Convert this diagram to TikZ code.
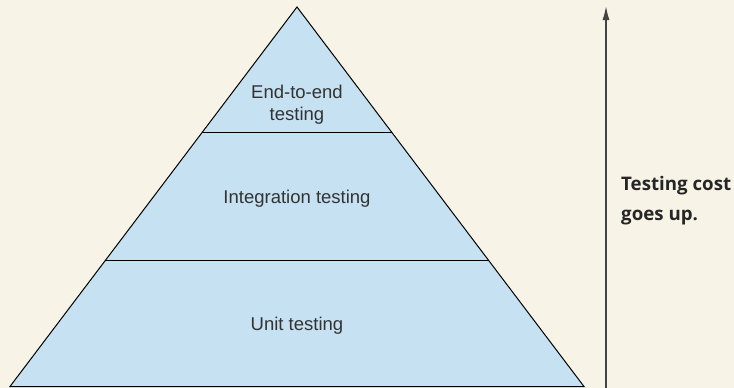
\documentclass[tikz,border=0pt]{standalone}
\usepackage{fontspec}
\setmainfont{Liberation Sans}
\newfontfamily\notefont{Open Sans}
\usetikzlibrary{arrows.meta,calc}
\definecolor{bgcream}{HTML}{F7F4E7}
\definecolor{pyrblue}{HTML}{C5E1F2}
\definecolor{labelgrey}{HTML}{333333}
\definecolor{arrowgrey}{HTML}{444444}
\tikzset{
  layerlabel/.style={font=\fontsize{18.5pt}{22pt}\selectfont, text=labelgrey, inner sep=0pt, anchor=base},
  notelabel/.style={font=\notefont\bfseries\fontsize{18.7pt}{22pt}\selectfont, text=black!85, inner sep=0pt, anchor=base west},
  pyrline/.style={draw=black, line width=1pt},
  costarrow/.style={draw=arrowgrey, line width=1.4pt, -{Latex[length=14pt,width=7pt]}}
}
\begin{document}
\begin{tikzpicture}[x=1pt,y=-1pt]
  \fill[bgcream] (0,0) rectangle (734,388);
  \useasboundingbox (0,0) rectangle (734,388);
  \coordinate (apex) at (297,7);
  \coordinate (bl) at (10,386.5);
  \coordinate (br) at (584,386.5);
  \coordinate (l1) at ($(apex)!0.332!(bl)$);
  \coordinate (r1) at ($(apex)!0.332!(br)$);
  \coordinate (l2) at ($(apex)!0.669!(bl)$);
  \coordinate (r2) at ($(apex)!0.669!(br)$);
  \path[fill=pyrblue, pyrline, line join=miter] (apex) -- (br) -- (bl) -- cycle;
  \draw[pyrline] (l1) -- (r1);
  \draw[pyrline] (l2) -- (r2);
  \node[layerlabel] (e2ea) at (297,98) {End-to-end};
  \node[layerlabel] (e2eb) at (297,120) {testing};
  \node[layerlabel] (integ) at (297,203) {Integration testing};
  \node[layerlabel] (unit) at (297,330) {Unit testing};
  \coordinate (arrowfoot) at (606,388);
  \coordinate (arrowtip) at (606,6);
  \draw[costarrow] (arrowfoot) -- (arrowtip);
  \node[notelabel] (costa) at (621,190) {Testing cost};
  \node[notelabel] (costb) at (621,220) {goes up.};
\end{tikzpicture}
\end{document}
